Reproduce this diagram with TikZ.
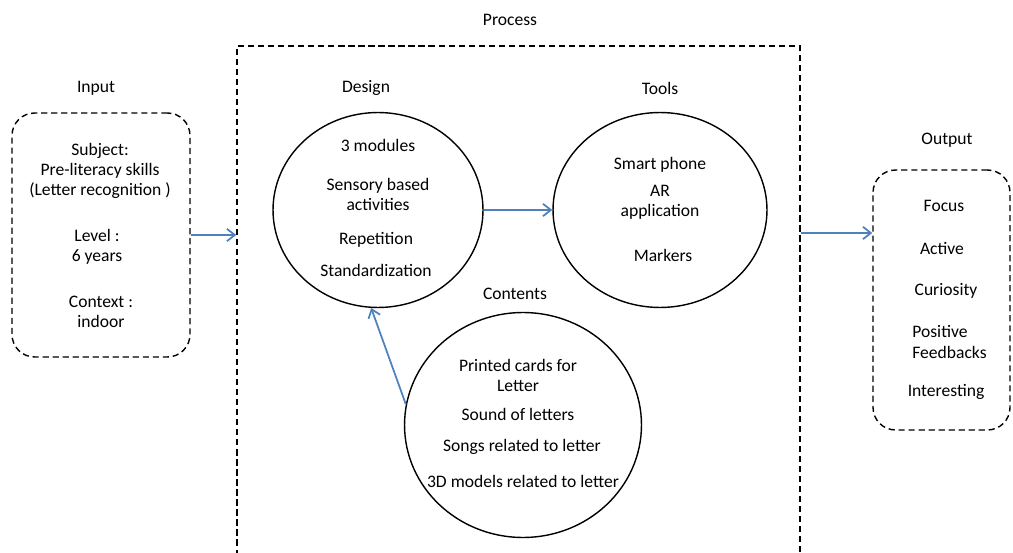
\documentclass[tikz,border=0pt]{standalone}
\usepackage{fontspec}
\setmainfont{Carlito}
\usepackage{xcolor}
\usetikzlibrary{shapes,arrows,arrows.meta,positioning,calc}

\definecolor{flowblue}{RGB}{79,129,189}

\begin{document}
\begin{tikzpicture}[x=0.02cm, y=-0.02cm,
    txt/.style={align=center, inner sep=0pt, font=\fontsize{10}{11.5}\selectfont},
    dbox/.style={draw, line width=0.8pt, dash pattern=on 3.5pt off 2.2pt, rounded corners=0.45cm, inner sep=0pt},
    bubble/.style={draw, ellipse, line width=0.8pt, inner sep=0pt},
    flow/.style={-{Straight Barb[length=4.5pt,width=7pt]}, draw=flowblue, line width=1pt}]
            \useasboundingbox (0,0) rectangle (1013,553);

            % Input
            \node[txt] (inlbl) at (96,88) {Input};
            \node[dbox, minimum width=3.56cm, minimum height=4.88cm] (inbox) at (101,235) {};
            \node[txt] (subj) at (100,171) {Subject:\\Pre-literacy skills\\(Letter recognition )};
            \node[txt] (lvl) at (97,246.5) {Level :\\6 years};
            \node[txt] (ctx) at (101,312) {Context :\\indoor};

            % Process
            \node[txt] (prlbl) at (510,20) {Process};
            \node[draw, line width=0.9pt, dash pattern=on 3.5pt off 2.2pt, inner sep=0pt,
                  minimum width=11.26cm, minimum height=10.28cm] (prbox) at (518.5,303) {};

            % Design circle
            \node[txt] (dslbl) at (366,88) {Design};
            \node[bubble, minimum width=4.2cm, minimum height=3.9cm] (design) at (378,210) {};
            \node[txt] (mods) at (378,145) {3 modules};
            \node[txt] (sens) at (378,194.5) {Sensory based\\activities};
            \node[txt] (rep) at (376,240) {Repetition};
            \node[txt] (std) at (376,270) {Standardization};

            % Tools circle
            \node[txt] (tllbl) at (660,88) {Tools};
            \node[bubble, minimum width=4.28cm, minimum height=3.9cm] (tools) at (660,210) {};
            \node[txt] (phone) at (660,165) {Smart phone};
            \node[txt] (arapp) at (660,202) {AR\\application};
            \node[txt] (mark) at (663,255) {Markers};

            % Contents circle
            \node[txt] (ctlbl) at (515,294) {Contents};
            \node[bubble, minimum width=4.74cm, minimum height=4.5cm] (contents) at (523,425) {};
            \node[txt] (cards) at (518,375.5) {Printed cards for\\Letter};
            \node[txt] (sound) at (518,414) {Sound of letters};
            \node[txt] (songs) at (522,447) {Songs related to letter};
            \node[txt] (models) at (523,481) {3D models related to letter};

            % Output
            \node[txt] (outlbl) at (947,140) {Output};
            \node[dbox, minimum width=2.74cm, minimum height=5.2cm] (outbox) at (941.5,300) {};
            \node[txt] (focus) at (944,206) {Focus};
            \node[txt] (active) at (942,248) {Active};
            \node[txt] (curio) at (946,291) {Curiosity};
            \node[txt, align=left, anchor=west] (posfb) at (912,342) {Positive\\Feedbacks};
            \node[txt] (inter) at (946,392) {Interesting};

            % arrows
            \coordinate (outy) at (0,233);
            \draw[flow] (inbox.east) -- (inbox.east -| prbox.west);
            \draw[flow] (design.east) -- (tools.west);
            \draw[flow] (contents.170) -- (design.266);
            \draw[flow] (prbox.east |- outy) -- (outbox.west |- outy);
        \end{tikzpicture}
\end{document}
